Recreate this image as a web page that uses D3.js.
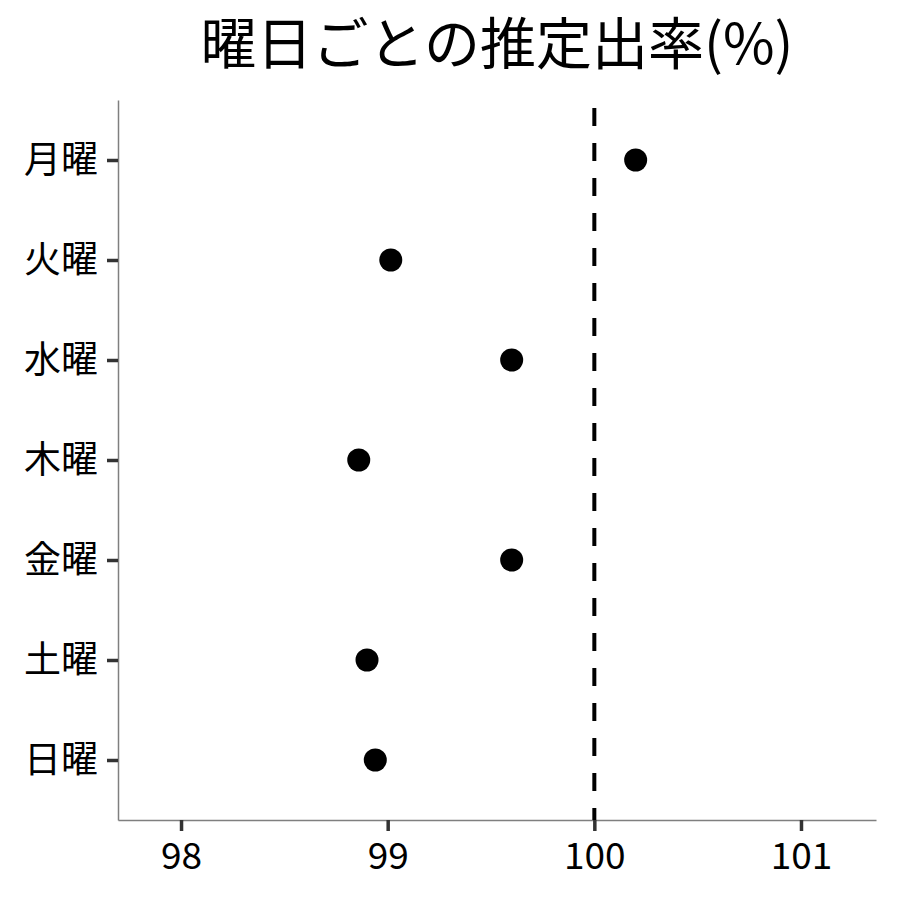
<!DOCTYPE html>
<html>
<head>
<meta charset="utf-8">
<script src="https://cdn.jsdelivr.net/npm/d3@7"></script>
<style>
  body { margin: 0; background: #fff; }
  svg text { font-family: "Noto Sans CJK JP", "Noto Sans", sans-serif; }
</style>
</head>
<body>
<svg id="dotVis" width="900" height="900"></svg>
<script>
// chart data
const days = ['月曜', '火曜', '水曜', '木曜', '金曜', '土曜', '日曜'];
const rates = [100.2, 99.015, 99.6, 98.86, 99.6, 98.9, 98.94];
const xTicks = [98, 99, 100, 101];
const refValue = 100;
const title = '曜日ごとの推定出率(%)';

const margin = { top: 100, right: 24, bottom: 80, left: 118 };
const width = 900 - margin.left - margin.right;
const height = 900 - margin.top - margin.bottom;

const svg = d3.select('svg#dotVis');
const g = svg.append('g')
    .attr('transform', `translate(${margin.left},${margin.top})`);

const xScale = d3.scaleLinear()
    .domain([97.695, 101.363])
    .range([0, width]);

// discrete axis with ggplot-like 0.6 expansion on each side
const yScale = d3.scalePoint()
    .domain(days)
    .range([0, height])
    .padding(0.6);

const xAxis = g.append('g')
    .attr('class', 'x-axis')
    .attr('transform', `translate(0,${height})`)
    .call(d3.axisBottom(xScale).tickValues(xTicks).tickFormat(d3.format('d'))
        .tickSizeOuter(0).tickSizeInner(11).tickPadding(7));

const yAxis = g.append('g')
    .attr('class', 'y-axis')
    .call(d3.axisLeft(yScale).tickSizeOuter(0).tickSizeInner(11).tickPadding(9));

// let the css font win over d3's default sans-serif
svg.selectAll('.x-axis, .y-axis')
    .attr('font-family', null)
    .attr('font-size', null);

svg.selectAll('.domain')
    .attr('stroke', '#7f7f7f')
    .attr('stroke-width', 1.5);

svg.selectAll('.tick line')
    .attr('stroke', '#333')
    .attr('stroke-width', 3.5);

svg.selectAll('.tick text')
    .attr('fill', '#000')
    .style('font-size', '37px');

xAxis.selectAll('.tick text').attr('dy', '0.85em');
yAxis.selectAll('.tick text').attr('dy', '0.35em');

// reference line at 100
g.append('line')
    .attr('x1', xScale(refValue))
    .attr('x2', xScale(refValue))
    .attr('y1', 0)
    .attr('y2', height)
    .attr('stroke', '#000')
    .attr('stroke-width', 4)
    .attr('stroke-dasharray', '18,17')
    .attr('stroke-dashoffset', 27);

g.append('g')
    .selectAll('circle')
    .data(days)
    .enter()
    .append('circle')
    .attr('cx', (d, i) => xScale(rates[i]))
    .attr('cy', d => yScale(d))
    .attr('r', 11.5)
    .attr('fill', '#000');

svg.append('text')
    .attr('x', margin.left + width / 2)
    .attr('y', 64)
    .attr('text-anchor', 'middle')
    .style('font-size', '56px')
    .attr('fill', '#000')
    .text(title);
</script>
</body>
</html>
